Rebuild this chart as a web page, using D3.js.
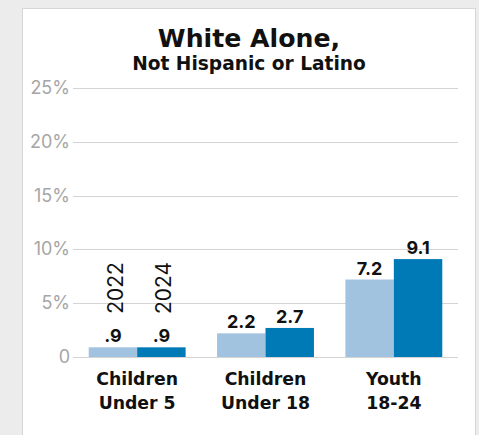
<!DOCTYPE html>
<html><head><meta charset="utf-8">
<script src="https://cdn.jsdelivr.net/npm/d3@7"></script>
<style>html,body{margin:0;padding:0;background:#ececec;}svg{display:block;}</style>
</head><body>
<script>
const categories = [["Children","Under 5"],["Children","Under 18"],["Youth","18-24"]];
const years = ["2022","2024"];
const values2022 = [0.9, 2.2, 7.2];
const values2024 = [0.9, 2.7, 9.1];
const labels2022 = [".9","2.2","7.2"];
const labels2024 = [".9","2.7","9.1"];
const yTicks = [0,5,10,15,20,25];
const yTickLabels = ["0","5%","10%","15%","20%","25%"];
const colors = ["#a2c3e0","#0079b7"];

const W=479,H=435;
const svg=d3.select("body").append("svg").attr("width",W).attr("height",H);
svg.append("rect").attr("x",0).attr("y",0).attr("width",W).attr("height",H).attr("fill","#ececec");
svg.append("rect").attr("x",22.5).attr("y",8.5).attr("width",453).attr("height",440).attr("fill","#fff").attr("stroke","#d6d6d6");

const font="Inter, 'Liberation Sans', Arial, sans-serif";
const wide="'DejaVu Sans', Inter, sans-serif";
const x=d3.scaleBand().domain(d3.range(categories.length)).range([73,458]).paddingInner(0).paddingOuter(0);
const y=d3.scaleLinear().domain([0,25]).range([357,88]);
const inner=x.bandwidth()*0.755;
const xs=d3.scaleBand().domain(years).range([0,inner]);

const g=svg.append("g");
yTicks.forEach((t,i)=>{
  g.append("line").attr("x1",73).attr("x2",458).attr("y1",Math.round(y(t))+0.5).attr("y2",Math.round(y(t))+0.5)
   .attr("stroke","#d4d4d4").attr("stroke-width",1.2);
  g.append("text").attr("x",70).attr("y",y(t)+6).attr("text-anchor","end")
   .attr("font-family",font).attr("font-size",18).attr("fill","#a6a6a6").text(yTickLabels[i]);
});

const series=[values2022,values2024];
const lbls=[labels2022,labels2024];
series.forEach((vals,si)=>{
  vals.forEach((v,ci)=>{
    const bx=x(ci)+(x.bandwidth()-inner)/2+xs(years[si]);
    g.append("rect").attr("x",bx).attr("y",y(v)).attr("width",xs.bandwidth()).attr("height",y(0)-y(v)).attr("fill",colors[si]);
    g.append("text").attr("x",bx+xs.bandwidth()/2).attr("y",y(v)-5).attr("text-anchor","middle")
      .attr("font-family",font).attr("font-weight","bold").attr("font-size",18).attr("fill","#111").text(lbls[si][ci]);
  });
});
years.forEach((yr,si)=>{
  const bx=x(0)+(x.bandwidth()-inner)/2+xs(yr)+xs.bandwidth()/2+10;
  g.append("text").attr("transform",`translate(${bx},${288}) rotate(-90)`).attr("text-anchor","middle")
   .attr("font-family",font).attr("font-size",21).attr("fill","#111").text(yr);
});
categories.forEach((c,ci)=>{
  c.forEach((line,li)=>{
    g.append("text").attr("x",x(ci)+x.bandwidth()/2).attr("y",385+li*23.5).attr("text-anchor","middle")
     .attr("font-family",wide).attr("font-weight","bold").attr("font-size",17.3).attr("fill","#111").text(line);
  });
});
svg.append("text").attr("x",249).attr("y",47).attr("text-anchor","middle").attr("font-family",wide)
  .attr("font-weight","bold").attr("font-size",25.2).attr("fill","#111").text("White Alone,");
svg.append("text").attr("x",249).attr("y",70).attr("text-anchor","middle").attr("font-family",wide)
  .attr("font-weight","bold").attr("font-size",18.6).attr("fill","#111").text("Not Hispanic or Latino");
</script>
</body></html>
